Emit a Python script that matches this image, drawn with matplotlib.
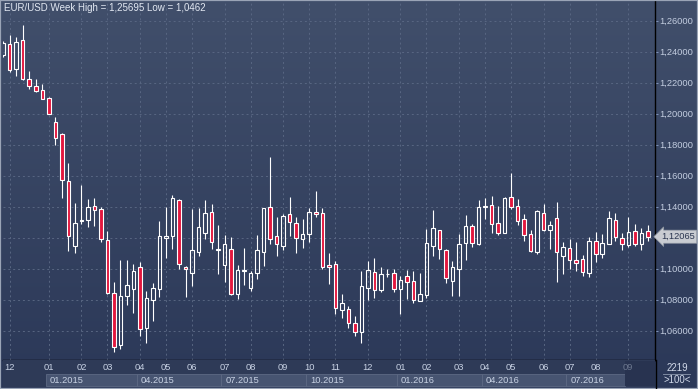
import matplotlib.pyplot as plt
import numpy as np
from matplotlib.colors import LinearSegmentedColormap
from matplotlib.patches import Rectangle

plt.rcParams["font.family"] = ["Liberation Sans", "DejaVu Sans"]

# weekly EUR/USD candles, oldest first
opens = [1.2380, 1.2450, 1.2286, 1.2474, 1.2222, 1.2177, 1.2151, 1.2101, 1.1944, 1.1867,
         1.1564, 1.1148, 1.1310, 1.1312, 1.1403, 1.1385, 1.1185, 1.0841, 1.0506, 1.0826,
         1.0867, 1.1009, 1.0615, 1.0796, 1.0867, 1.1200, 1.1213, 1.1441, 1.1009, 1.0970,
         1.1110, 1.1228, 1.1364, 1.1118, 1.1026, 1.1127, 1.0839, 1.0983, 1.0874, 1.0970,
         1.1106, 1.1396, 1.1213, 1.1148, 1.1353, 1.1293, 1.1194, 1.1222, 1.1366, 1.1359,
         1.1022, 1.1028, 1.0735, 1.0738, 1.0648, 1.0594, 1.0877, 1.0977, 1.0865, 1.0965,
         1.0972, 1.0871, 1.0951, 1.0921, 1.0794, 1.0830, 1.1148, 1.1248, 1.1121, 1.0919,
         1.0996, 1.1168, 1.1274, 1.1161, 1.1395, 1.1411, 1.1297, 1.1232, 1.1463, 1.1404,
         1.1321, 1.1224, 1.1108, 1.1359, 1.1252, 1.1327, 1.1080, 1.1134, 1.1054, 1.1061,
         1.0970, 1.1177, 1.1093, 1.1161, 1.1312, 1.1198, 1.1155, 1.1241, 1.1161, 1.1241]
highs = [1.2470, 1.2508, 1.2497, 1.25695, 1.2276, 1.2222, 1.2192, 1.2106, 1.1979, 1.1873,
         1.1680, 1.1424, 1.1540, 1.1448, 1.1454, 1.1396, 1.1244, 1.0914, 1.1056, 1.1056,
         1.1030, 1.1043, 1.0854, 1.0910, 1.1305, 1.1398, 1.1476, 1.1448, 1.1017, 1.1383,
         1.1390, 1.1441, 1.1417, 1.1280, 1.1217, 1.1203, 1.1024, 1.1134, 1.0985, 1.1217,
         1.1392, 1.1721, 1.1332, 1.1351, 1.1463, 1.1332, 1.1319, 1.1390, 1.1501, 1.1390,
         1.1099, 1.1052, 1.0835, 1.0761, 1.0695, 1.0985, 1.1052, 1.1067, 1.1009, 1.0996,
         1.0996, 1.0953, 1.0992, 1.0985, 1.0970, 1.1256, 1.1379, 1.1250, 1.1127, 1.1050,
         1.1224, 1.1346, 1.1286, 1.1443, 1.1456, 1.1469, 1.1404, 1.1463, 1.1617, 1.1450,
         1.1353, 1.1252, 1.1379, 1.1419, 1.1308, 1.1430, 1.1172, 1.1190, 1.1172, 1.1088,
         1.1206, 1.1235, 1.1226, 1.1372, 1.1359, 1.1230, 1.1334, 1.1286, 1.1263, 1.1282]
lows = [1.2365, 1.2267, 1.2243, 1.2217, 1.2159, 1.2140, 1.2097, 1.1995, 1.1800, 1.1458,
        1.1116, 1.1099, 1.1290, 1.1271, 1.1277, 1.1174, 1.0837, 1.0462, 1.0482, 1.0766,
        1.0716, 1.0568, 1.0523, 1.0665, 1.0819, 1.1071, 1.1129, 1.1000, 1.0819, 1.0890,
        1.1084, 1.1190, 1.1129, 1.0968, 1.0916, 1.0833, 1.0806, 1.0897, 1.0858, 1.0932,
        1.1019, 1.1159, 1.1082, 1.1121, 1.1213, 1.1103, 1.1135, 1.1174, 1.1335, 1.0996,
        1.0899, 1.0710, 1.0680, 1.0619, 1.0566, 1.0523, 1.0798, 1.0809, 1.0850, 1.0948,
        1.0850, 1.0708, 1.0805, 1.0781, 1.0792, 1.0813, 1.1084, 1.1065, 1.0910, 1.0826,
        1.0826, 1.1058, 1.1140, 1.1155, 1.1321, 1.1232, 1.1219, 1.1228, 1.1385, 1.1282,
        1.1181, 1.1108, 1.1095, 1.1243, 1.1129, 1.0916, 1.0966, 1.1000, 1.0985, 1.0955,
        1.0948, 1.1043, 1.1071, 1.1157, 1.1179, 1.1123, 1.1140, 1.1148, 1.1123, 1.1179]
closes = [1.2455, 1.2282, 1.2461, 1.2224, 1.2181, 1.2148, 1.2097, 1.2000, 1.1841, 1.1570,
          1.1209, 1.1295, 1.1314, 1.1396, 1.1381, 1.1194, 1.0845, 1.0497, 1.0824, 1.0893,
          1.0983, 1.0609, 1.0809, 1.0874, 1.1213, 1.1213, 1.1454, 1.1028, 1.0996, 1.1121,
          1.1267, 1.1357, 1.1170, 1.1126, 1.1157, 1.0835, 1.0990, 1.0990, 1.0970, 1.1119,
          1.1390, 1.1190, 1.1157, 1.1338, 1.1299, 1.1200, 1.1222, 1.1366, 1.1351, 1.1013,
          1.1009, 1.0744, 1.0777, 1.0652, 1.0594, 1.0886, 1.0992, 1.0865, 1.0964, 1.0969,
          1.0867, 1.0929, 1.0916, 1.0798, 1.0835, 1.1166, 1.1261, 1.1129, 1.0938, 1.1009,
          1.1157, 1.1274, 1.1168, 1.1396, 1.1402, 1.1286, 1.1228, 1.1456, 1.1400, 1.1310,
          1.1219, 1.1116, 1.1370, 1.1252, 1.1282, 1.1110, 1.1140, 1.1054, 1.1035, 1.0977,
          1.1177, 1.1093, 1.1166, 1.1327, 1.1205, 1.1161, 1.1235, 1.1157, 1.1228, 1.12065]

# candle index where each month starts
month_pos = [1, 7, 12, 16, 21, 25, 29, 34, 38, 43, 47, 51, 56, 61, 65, 70, 74, 78, 83, 87, 91, 96]
month_lbl = ["12", "01", "02", "03", "04", "05", "06", "07", "08", "09", "10", "11",
             "12", "01", "02", "03", "04", "05", "06", "07", "08", "09"]
quarter_pos = [7, 21, 34, 47, 61, 74, 87]
quarter_lbl = ["01.2015", "04.2015", "07.2015", "10.2015", "01.2016", "04.2016", "07.2016"]
price_levels = [1.06, 1.08, 1.10, 1.12, 1.14, 1.16, 1.18, 1.20, 1.22, 1.24, 1.26]
last_price = 1.12065

W, H = 698, 389
fig = plt.figure(figsize=(W / 100, H / 100), dpi=100)
fig.patch.set_facecolor("#2c3956")

# gradient background for the whole window
bg = fig.add_axes([0, 0, 1, 1])
bg.axis("off")
cmap = LinearSegmentedColormap.from_list("bg", ["#414f6b", "#2b3858"])
bg.imshow(np.linspace(0, 1, 256).reshape(-1, 1), aspect="auto", cmap=cmap,
          extent=[0, 1, 0, 1], origin="upper")

ax = fig.add_axes([3 / W, 29 / H, 652 / W, 359 / H])
ax.patch.set_alpha(0)

x = np.arange(len(opens))
o, h, l, c = map(np.array, (opens, highs, lows, closes))
top = np.maximum(o, c)
bot = np.minimum(o, c)
up = c >= o
body = np.maximum(top - bot, 0.0004)

ax.vlines(x, top, h, color="white", lw=0.8, zorder=3)
ax.vlines(x, l, bot, color="white", lw=0.8, zorder=3)
ax.bar(x[up], body[up], bottom=bot[up], width=0.54, facecolor="none",
       edgecolor="white", lw=0.8, zorder=4)
ax.bar(x[~up], body[~up], bottom=bot[~up], width=0.54, facecolor="#e3173e",
       edgecolor="white", lw=0.8, zorder=4)

ax.set_xlim(-0.03, 100.1)
ax.set_ylim(1.0411, 1.2727)
ax.set_xticks(month_pos)
ax.set_xticklabels([])
ax.tick_params(axis="x", length=0)
ax.set_yticks(price_levels)
# the 1,12000 label sits under the last-price tag
ax.set_yticklabels(["" if abs(v - last_price) < 0.005 else f"{v:.5f}".replace(".", ",")
                    for v in price_levels])
ax.yaxis.tick_right()
ax.tick_params(axis="y", length=2, width=0.7, color="#7f93bb", labelcolor="#c3cde0",
               labelsize=6.7, pad=1.2)
ax.grid(True, color="#586682", ls=(0, (2, 3)), lw=0.7, zorder=1)
for s in ["top", "left"]:
    ax.spines[s].set_visible(False)
for s in ["right", "bottom"]:
    ax.spines[s].set_color("black")
    ax.spines[s].set_linewidth(1.0)

fig.text(4 / W, 1 - 8 / H, "EUR/USD Week High = 1,25695 Low = 1,0462", color="#e2e8f2",
         fontsize=7.0, va="center", ha="left")

# last price tag
y_tag = ax.transData.transform((0, last_price))[1] / fig.bbox.height
fig.text(661 / W, y_tag, "1,12065", ha="left", va="center", fontsize=6.7, color="#2a3550",
         zorder=6, bbox=dict(boxstyle="larrow,pad=0.22", fc="#c9ccd2", ec="#9097a3", lw=0.5))

# time axis panel
axt = fig.add_axes([3 / W, 2 / H, 652 / W, 27 / H])
axt.set_xlim(ax.get_xlim())
axt.set_ylim(0, 1)
axt.axis("off")
axt.add_patch(Rectangle((-1, 0), 103, 1, fc="#2e3a57", ec="none", zorder=0))
qbounds = quarter_pos + [month_pos[-1]]
for i, lbl in enumerate(quarter_lbl):
    x0 = qbounds[i] - 0.5
    x1 = qbounds[i + 1] - 0.5
    axt.add_patch(Rectangle((x0, 0.02), x1 - x0, 0.46, fc="#475471", ec="#5d6984",
                            lw=0.6, zorder=1))
    axt.text(x0 + 0.6, 0.25, lbl, color="#c8d2e4", fontsize=6.7, va="center", ha="left",
             zorder=3)
axt.add_patch(Rectangle((month_pos[-1] - 0.5, 0.02), 101 - month_pos[-1], 0.96,
                        fc="#283350", ec="none", zorder=2))
for p, lbl in zip(month_pos, month_lbl):
    col = "#6f7a91" if p == month_pos[-1] else "#c8d2e4"
    axt.text(p, 0.74, lbl, color=col, fontsize=6.7, va="center", ha="center", zorder=3)

# corner box under the price scale
fig.text(677 / W, 1 - 368 / H, "2219", color="#d0d8e8", fontsize=6.9, ha="center", va="center")
fig.text(677 / W, 1 - 380 / H, ">100<", color="#d0d8e8", fontsize=6.9, ha="center", va="center")
fig.add_artist(plt.Line2D([663 / W, 690 / W], [1 - 373.5 / H] * 2, color="#8d98ad", lw=0.6))
fig.add_artist(plt.Line2D([655.5 / W] * 2, [0, 29 / H], color="black", lw=1.0))

# window frame
fig.add_artist(Rectangle((0, 0), 1, 1, transform=fig.transFigure, fill=False,
                         ec="#9aa4b6", lw=1.6))

fig.savefig("out.png", dpi=100)
